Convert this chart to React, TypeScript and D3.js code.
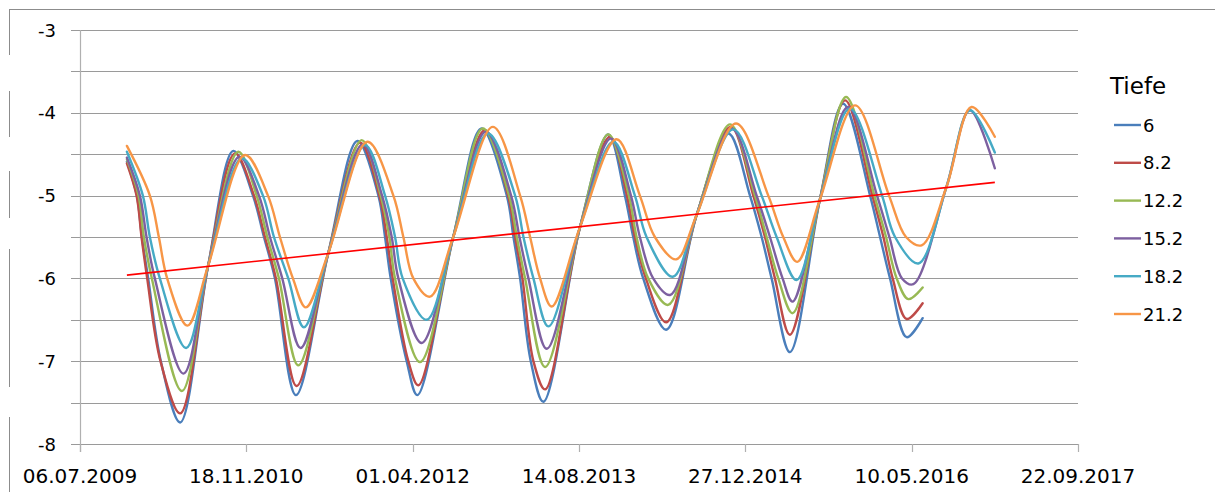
import * as d3 from 'd3';

const WIDTH = 1215;
const HEIGHT = 492;
const PLOT = { left: 80, right: 1078, top: 30, bottom: 444 };

const DEPTHS = ['6', '8.2', '12.2', '15.2', '18.2', '21.2'];
const COLORS = ['#4A7EBB', '#BE4B48', '#98B954', '#7D60A0', '#46AAC5', '#F79646'];
const Y_TICKS = [-3, -4, -5, -6, -7, -8];
const GRID_VALUES = [-3, -3.5, -4, -4.5, -5, -5.5, -6, -6.5, -7, -7.5, -8];
// excel date serials, major unit 500 days
const X_TICKS = [40000, 40500, 41000, 41500, 42000, 42500, 43000];

// [excel date serial, value]
const SERIES_6: [number, number][] = [
  [40141, -4.59], [40171, -5.0], [40186, -5.5], [40205, -6.0], [40243, -7.0], [40301, -7.74], [40385, -5.85], [40461, -4.46],
  [40520, -5.0], [40553, -5.5], [40586, -6.0], [40649, -7.41], [40746, -5.7], [40834, -4.34],
  [40897, -5.0], [40917, -5.5], [40934, -6.0], [40982, -7.0], [41014, -7.41], [41122, -5.5], [41207, -4.19],
  [41283, -5.0], [41303, -5.5], [41323, -6.0], [41355, -7.0], [41393, -7.49], [41503, -5.38], [41588, -4.26],
  [41638, -5.0], [41663, -5.5], [41693, -6.0], [41762, -6.62], [41854, -5.23], [41949, -4.25],
  [42014, -5.0], [42049, -5.5], [42079, -6.0], [42134, -6.89], [42224, -5.05], [42294, -3.89],
  [42375, -5.0], [42405, -5.5], [42435, -6.0], [42485, -6.71], [42533, -6.48],
];
const SERIES_8_2: [number, number][] = [
  [40141, -4.61], [40170, -5.0], [40185, -5.5], [40202, -6.0], [40242, -7.0], [40301, -7.63], [40385, -5.85], [40466, -4.49],
  [40523, -5.0], [40556, -5.5], [40589, -6.0], [40651, -7.3], [40746, -5.7], [40842, -4.36],
  [40900, -5.0], [40922, -5.5], [40940, -6.0], [40987, -7.0], [41017, -7.29], [41122, -5.5], [41217, -4.21],
  [41287, -5.0], [41308, -5.5], [41330, -6.0], [41363, -7.0], [41398, -7.34], [41503, -5.38], [41593, -4.29],
  [41644, -5.0], [41668, -5.5], [41701, -6.0], [41762, -6.53], [41854, -5.23], [41956, -4.17],
  [42024, -5.0], [42059, -5.5], [42089, -6.0], [42134, -6.68], [42224, -5.05], [42300, -3.85],
  [42382, -5.0], [42415, -5.5], [42443, -6.0], [42485, -6.49], [42533, -6.3],
];
const SERIES_12_2: [number, number][] = [
  [40141, -4.56], [40176, -5.0], [40192, -5.5], [40216, -6.0], [40306, -7.36], [40385, -5.85], [40476, -4.47],
  [40531, -5.0], [40563, -5.5], [40598, -6.0], [40656, -7.05], [40746, -5.7], [40847, -4.33],
  [40904, -5.0], [40930, -5.5], [40947, -6.0], [41022, -7.01], [41122, -5.5], [41211, -4.19],
  [41290, -5.0], [41313, -5.5], [41338, -6.0], [41398, -7.07], [41503, -5.38], [41588, -4.26],
  [41650, -5.0], [41673, -5.5], [41708, -6.0], [41768, -6.32], [41854, -5.23], [41954, -4.14],
  [42029, -5.0], [42064, -5.5], [42099, -6.0], [42142, -6.42], [42224, -5.05], [42303, -3.81],
  [42388, -5.0], [42423, -5.5], [42455, -6.0], [42490, -6.25], [42533, -6.11],
];
const SERIES_15_2: [number, number][] = [
  [40141, -4.54], [40180, -5.0], [40200, -5.5], [40225, -6.0], [40311, -7.15], [40385, -5.85], [40479, -4.53],
  [40538, -5.0], [40571, -5.5], [40608, -6.0], [40663, -6.84], [40746, -5.7], [40850, -4.38],
  [40908, -5.0], [40937, -5.5], [40957, -6.0], [41027, -6.78], [41122, -5.5], [41220, -4.23],
  [41296, -5.0], [41321, -5.5], [41348, -6.0], [41403, -6.85], [41503, -5.38], [41596, -4.31],
  [41656, -5.0], [41683, -5.5], [41723, -6.0], [41774, -6.2], [41854, -5.23], [41959, -4.19],
  [42034, -5.0], [42074, -5.5], [42112, -6.0], [42142, -6.28], [42224, -5.05], [42309, -3.93],
  [42396, -5.0], [42433, -5.5], [42471, -6.0], [42505, -6.07], [42605, -4.89], [42675, -3.97], [42750, -4.67],
];
const SERIES_18_2: [number, number][] = [
  [40141, -4.47], [40189, -5.0], [40210, -5.5], [40240, -6.0], [40319, -6.84], [40385, -5.85], [40486, -4.55],
  [40550, -5.0], [40583, -5.5], [40626, -6.0], [40673, -6.59], [40746, -5.7], [40857, -4.39],
  [40917, -5.0], [40947, -5.5], [40970, -6.0], [41042, -6.5], [41122, -5.5], [41226, -4.25],
  [41308, -5.0], [41333, -5.5], [41363, -6.0], [41408, -6.58], [41503, -5.38], [41603, -4.35],
  [41668, -5.0], [41703, -5.5], [41782, -5.98], [41854, -5.23], [41964, -4.2],
  [42049, -5.0], [42094, -5.5], [42154, -6.02], [42224, -5.05], [42314, -3.95],
  [42411, -5.0], [42450, -5.5], [42520, -5.82], [42605, -4.89], [42675, -3.97], [42750, -4.48],
];
const SERIES_21_2: [number, number][] = [
  [40141, -4.4], [40210, -5.0], [40237, -5.5], [40262, -6.0], [40323, -6.57], [40385, -5.85], [40496, -4.51],
  [40565, -5.0], [40601, -5.5], [40640, -6.0], [40679, -6.35], [40746, -5.7], [40864, -4.35],
  [40942, -5.0], [40972, -5.5], [41002, -6.0], [41052, -6.22], [41122, -5.5], [41241, -4.17],
  [41323, -5.0], [41353, -5.5], [41383, -6.0], [41418, -6.34], [41503, -5.38], [41613, -4.32],
  [41683, -5.0], [41728, -5.5], [41792, -5.77], [41854, -5.23], [41972, -4.13],
  [42069, -5.0], [42114, -5.5], [42156, -5.8], [42224, -5.05], [42330, -3.91],
  [42432, -5.0], [42483, -5.5], [42530, -5.6], [42605, -4.89], [42680, -3.93], [42750, -4.29],
];
const SERIES = [SERIES_6, SERIES_8_2, SERIES_12_2, SERIES_15_2, SERIES_18_2, SERIES_21_2];

// linear trend line, start / end
const TREND: [number, number][] = [[40141, -5.96], [42750, -4.84]];

// broken outer frame on the left
const FRAME_SEGMENTS = [[9, 55], [91, 137], [171, 218], [249, 387], [417, 492]];

const FONT = 'DejaVu Sans, Verdana, sans-serif';

const serialToDate = (s: number) => new Date(Date.UTC(1899, 11, 30) + s * 86400000);
const fmt = d3.utcFormat('%d.%m.%Y');

export default function App() {
  const x = d3.scaleLinear().domain([40000, 43000]).range([PLOT.left, PLOT.right]);
  const y = d3.scaleLinear().domain([-8, -3]).range([PLOT.bottom, PLOT.top]);

  const line = d3
    .line<[number, number]>()
    .x((d) => x(d[0]))
    .y((d) => y(d[1]))
    .curve(d3.curveCatmullRom.alpha(0.5));

  const trendLine = d3
    .line<[number, number]>()
    .x((d) => x(d[0]))
    .y((d) => y(d[1]));

  return (
    <svg
      width={WIDTH}
      height={HEIGHT}
      style={{ position: 'absolute', left: 0, top: 0, background: '#fff' }}
      fontFamily={FONT}
    >
      {/* outer frame */}
      <line x1={9.5} x2={WIDTH} y1={9.5} y2={9.5} stroke="#8c8c8c" strokeWidth={1} />
      {FRAME_SEGMENTS.map(([a, b], i) => (
        <line key={i} x1={9.5} x2={9.5} y1={a} y2={b} stroke="#8c8c8c" strokeWidth={1} />
      ))}

      {/* grid */}
      {GRID_VALUES.map((v) => (
        <line
          key={v}
          x1={71}
          x2={PLOT.right}
          y1={Math.round(y(v)) + 0.5}
          y2={Math.round(y(v)) + 0.5}
          stroke="#9a9a9a"
          strokeWidth={1.2}
        />
      ))}
      <line
        x1={PLOT.left + 0.5}
        x2={PLOT.left + 0.5}
        y1={PLOT.top}
        y2={PLOT.bottom + 8}
        stroke="#b0b0b0"
        strokeWidth={1.2}
      />
      {X_TICKS.map((t) => (
        <line
          key={t}
          x1={Math.round(x(t)) + 0.5}
          x2={Math.round(x(t)) + 0.5}
          y1={PLOT.bottom}
          y2={PLOT.bottom + 8}
          stroke="#b0b0b0"
          strokeWidth={1.2}
        />
      ))}

      {/* y labels */}
      {Y_TICKS.map((v) => (
        <text key={v} x={56} y={y(v)} textAnchor="end" dominantBaseline="central" fontSize={18} fill="#000">
          {v}
        </text>
      ))}

      {/* x labels */}
      {X_TICKS.map((t) => (
        <text key={t} x={x(t)} y={483} textAnchor="middle" fontSize={20} fill="#000">
          {fmt(serialToDate(t))}
        </text>
      ))}

      {/* series */}
      {SERIES.map((s, i) => (
        <path
          key={i}
          d={line(s) ?? ''}
          fill="none"
          stroke={COLORS[i]}
          strokeWidth={2.4}
          strokeLinejoin="round"
          strokeLinecap="round"
        />
      ))}
      <path d={trendLine(TREND) ?? ''} fill="none" stroke="#ff0000" strokeWidth={1.6} />

      {/* legend */}
      <text x={1110} y={94} fontSize={23} fill="#000">
        Tiefe
      </text>
      {DEPTHS.map((d, i) => {
        const cy = 125 + i * 37.8;
        return (
          <g key={d}>
            <line x1={1114} x2={1141} y1={cy} y2={cy} stroke={COLORS[i]} strokeWidth={2.4} />
            <text x={1143} y={cy} dominantBaseline="central" fontSize={18} fill="#000">
              {d}
            </text>
          </g>
        );
      })}
    </svg>
  );
}
